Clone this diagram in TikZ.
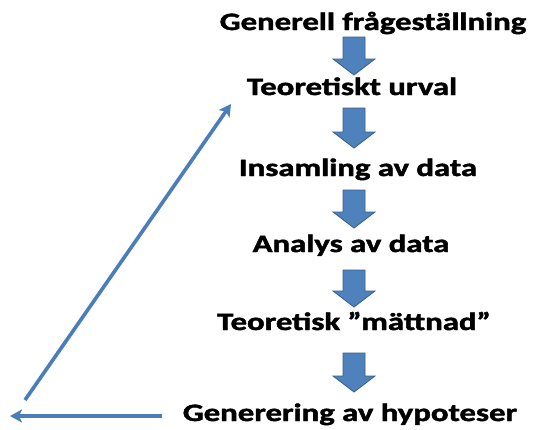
\documentclass[tikz,border=0pt]{standalone}
\usepackage{fontspec}
\setmainfont{Carlito}
\newfontfamily\lblfont{Carlito}[BoldFeatures={FakeBold=1.6}]
\usetikzlibrary{arrows.meta}
\definecolor{ablue}{HTML}{4F81BD}
\definecolor{aedge}{HTML}{385D8A}
\definecolor{lblue}{HTML}{4A7EBB}
\newcommand\widetext[1]{\scalebox{1.31}[1]{#1}}
\tikzset{
  lbl/.style={font=\lblfont\bfseries\fontsize{25}{28}\selectfont, inner sep=0pt, anchor=base},
  blockarr/.style={fill=ablue, draw=aedge, line width=0.8pt, line join=miter},
  loopline/.style={draw=lblue, line width=3.6pt, -{Stealth[length=12pt,width=13pt,inset=3pt]}}
}
\newcommand\downarrowblock[3]{% x, top, bottom
  \path[blockarr] (#1-11,#2) -- (#1+11,#2) -- (#1+11,#3-16) -- (#1+21,#3-16) -- (#1,#3)
    -- (#1-21,#3-16) -- (#1-11,#3-16) -- cycle;}
\begin{document}
\begin{tikzpicture}[x=1pt,y=-1pt]
\useasboundingbox (0,0) rectangle (535,429);
\node[lbl] (t1) at (373,30) {\widetext{Generell frågeställning}};
\node[lbl] (t2) at (352,95) {\widetext{Teoretiskt urval}};
\node[lbl] (t3) at (358,176) {\widetext{Insamling av data}};
\node[lbl] (t4) at (351,252) {\widetext{Analys av data}};
\node[lbl] (t5) at (354,330) {\widetext{Teoretisk ”mättnad”}};
\node[lbl] (t6) at (350,421) {\widetext{Generering av hypoteser}};
\downarrowblock{354}{37}{75}
\downarrowblock{354}{108}{148}
\downarrowblock{354}{190}{228}
\downarrowblock{354}{270}{307}
\downarrowblock{354}{353}{392}
\coordinate (hs) at (162,416);
\coordinate (he) at (10,416);
\coordinate (ds) at (25,400);
\coordinate (de) at (231,104);
\draw[loopline] (hs) -- (he);
\draw[loopline] (ds) -- (de);
\end{tikzpicture}
\end{document}
